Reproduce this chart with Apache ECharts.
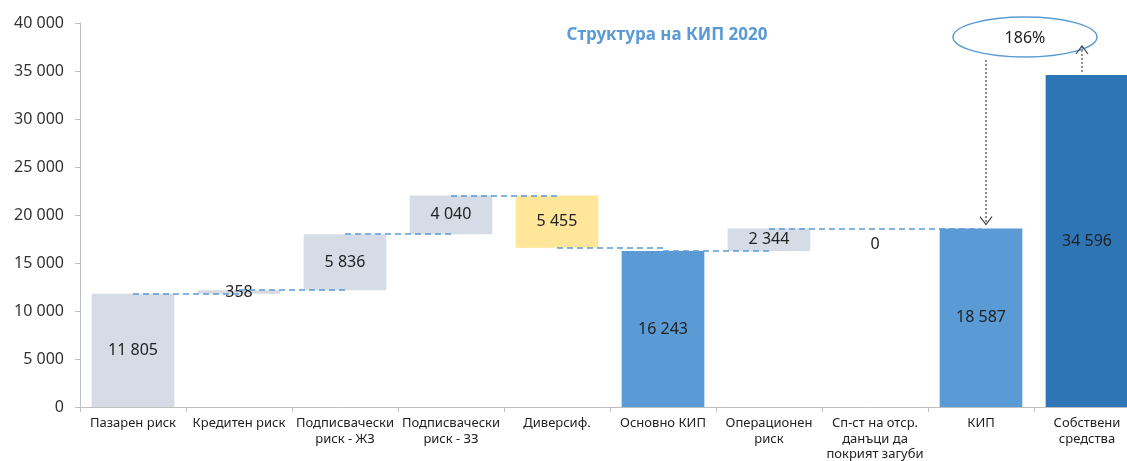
<!DOCTYPE html>
<html>
<head>
<meta charset="utf-8">
<script src="https://cdn.jsdelivr.net/npm/echarts@6/dist/echarts.min.js"></script>
<style>
  html, body { margin: 0; padding: 0; background: #fff; }
  #chart { width: 1127px; height: 461px; }
</style>
</head>
<body>
<div id="chart"></div>
<script>
// данни от графиката
var categories = ['Пазарен риск', 'Кредитен риск', 'Подписвачески\nриск - ЖЗ', 'Подписвачески\nриск - ЗЗ',
  'Диверсиф.', 'Основно КИП', 'Операционен\nриск', 'Сп-ст на отср.\nданъци да\nпокрият загуби', 'КИП', 'Собствени\nсредства']
var values = [11805, 358, 5836, 4040, 5455, 16243, 2344, 0, 18587, 34596]
// delta = добавя се, minus = изважда се, total = обща стойност
var kinds = ['delta', 'delta', 'delta', 'delta', 'minus', 'total', 'delta', 'delta', 'total', 'total']
var yTicks = [0, 5000, 10000, 15000, 20000, 25000, 30000, 35000, 40000]
var ratioLabel = '186%'

var colors = {
  delta: '#d6dce5',
  minus: '#ffe699',
  total: '#5b9bd5',
  own: '#2e75b6'
}

// основи на водопада
var bases = []
var levels = []
var running = 0
for (var i = 0; i < values.length; i++) {
  if (kinds[i] === 'total') {
    bases.push(0)
    running = values[i]
  } else if (kinds[i] === 'minus') {
    running = running - values[i]
    bases.push(running)
  } else {
    bases.push(running)
    running = running + values[i]
  }
  levels.push(running)
}

var barColors = values.map(function (v, i) {
  if (i === values.length - 1) return colors.own
  return colors[kinds[i]]
})

function fmt(v) {
  return String(v).replace(/\B(?=(\d{3})+(?!\d))/g, ' ')
}

// пунктирни свързващи линии (до КИП)
var connectors = []
for (var i = 0; i < 7; i++) {
  var next = i + 1
  if (values[next] === 0) next = next + 1
  connectors.push([
    { coord: [i, levels[i]] },
    { coord: [next, levels[i]] }
  ])
}

var chartDom = document.getElementById('chart')
var myChart = echarts.init(chartDom)

var option = {
  animation: false,
  textStyle: { fontFamily: 'Noto Sans' },
  title: {
    text: 'Структура на КИП 2020',
    left: 662,
    top: 22,
    textAlign: 'center',
    textStyle: { color: '#5b9bd5', fontSize: 17, fontWeight: 'bold', fontFamily: 'Noto Sans' }
  },
  grid: { left: 80, top: 23, width: 1060, height: 384, outerBoundsMode: 'none' },
  xAxis: {
    type: 'category',
    data: categories,
    axisLine: { lineStyle: { color: '#bfbfbf' } },
    axisTick: { show: true, length: 5, lineStyle: { color: '#bfbfbf' } },
    axisLabel: { color: '#222', fontSize: 13, lineHeight: 15.5, margin: 9, interval: 0 }
  },
  yAxis: {
    type: 'value',
    min: 0,
    max: 40000,
    interval: 5000,
    splitLine: { show: false },
    axisLine: { show: true, lineStyle: { color: '#bfbfbf' } },
    axisTick: { show: true, length: 5, lineStyle: { color: '#bfbfbf' } },
    axisLabel: {
      color: '#333', fontSize: 16, margin: 16,
      formatter: function (v) { return fmt(v) }
    }
  },
  series: [
    {
      name: 'base',
      type: 'bar',
      stack: 'w',
      barCategoryGap: '22%',
      itemStyle: { color: 'transparent' },
      silent: true,
      data: bases,
      markLine: {
        silent: true,
        symbol: 'none',
        label: { show: false },
        lineStyle: { color: '#5b9bd5', type: [6, 4], width: 1.5 },
        data: connectors
      }
    },
    {
      name: 'value',
      type: 'bar',
      stack: 'w',
      barCategoryGap: '22%',
      data: values.map(function (v, i) {
        return {
          value: v,
          itemStyle: { color: barColors[i] },
          label: v === 0 ? { offset: [0, 16] } : {}
        }
      }),
      label: {
        show: true,
        position: 'inside',
        color: '#222',
        fontSize: 16,
        formatter: function (p) { return fmt(p.value) }
      }
    }
  ]
}
myChart.setOption(option)

// елипса със съотношението и стрелките
var kipIdx = 8
var ownIdx = 9
var kipTop = myChart.convertToPixel({ gridIndex: 0 }, [kipIdx, values[kipIdx]])
var ownTop = myChart.convertToPixel({ gridIndex: 0 }, [ownIdx, values[ownIdx]])
var ex = 1025, ey = 37, erx = 72, ery = 20
var a1x = kipTop[0] + 5
var a2x = ownTop[0] - 5
var arrowStyle = { stroke: '#444', lineWidth: 1.2, lineDash: [2, 2] }
var headStyle = { stroke: '#444', lineWidth: 1.2, fill: null }

myChart.setOption({
  graphic: [
    {
      type: 'ellipse',
      shape: { cx: ex, cy: ey, rx: erx, ry: ery },
      style: { fill: '#fff', stroke: '#5b9bd5', lineWidth: 1.5 },
      z: 10
    },
    {
      type: 'text',
      x: ex,
      y: ey + 1,
      style: {
        text: ratioLabel, fill: '#222', fontSize: 16, fontFamily: 'Noto Sans',
        align: 'center', verticalAlign: 'middle'
      },
      z: 11
    },
    {
      type: 'line',
      shape: { x1: a1x, y1: ey + ery + 3, x2: a1x, y2: kipTop[1] - 4 },
      style: arrowStyle,
      z: 10
    },
    {
      type: 'polyline',
      shape: { points: [[a1x - 6, kipTop[1] - 12], [a1x, kipTop[1] - 4], [a1x + 6, kipTop[1] - 12]] },
      style: headStyle,
      z: 10
    },
    {
      type: 'line',
      shape: { x1: a2x, y1: ownTop[1] - 3, x2: a2x, y2: ey + ery - 11 },
      style: arrowStyle,
      z: 12
    },
    {
      type: 'polyline',
      shape: { points: [[a2x - 6, ey + ery - 3], [a2x, ey + ery - 11], [a2x + 6, ey + ery - 3]] },
      style: headStyle,
      z: 12
    }
  ]
})
</script>
</body>
</html>
